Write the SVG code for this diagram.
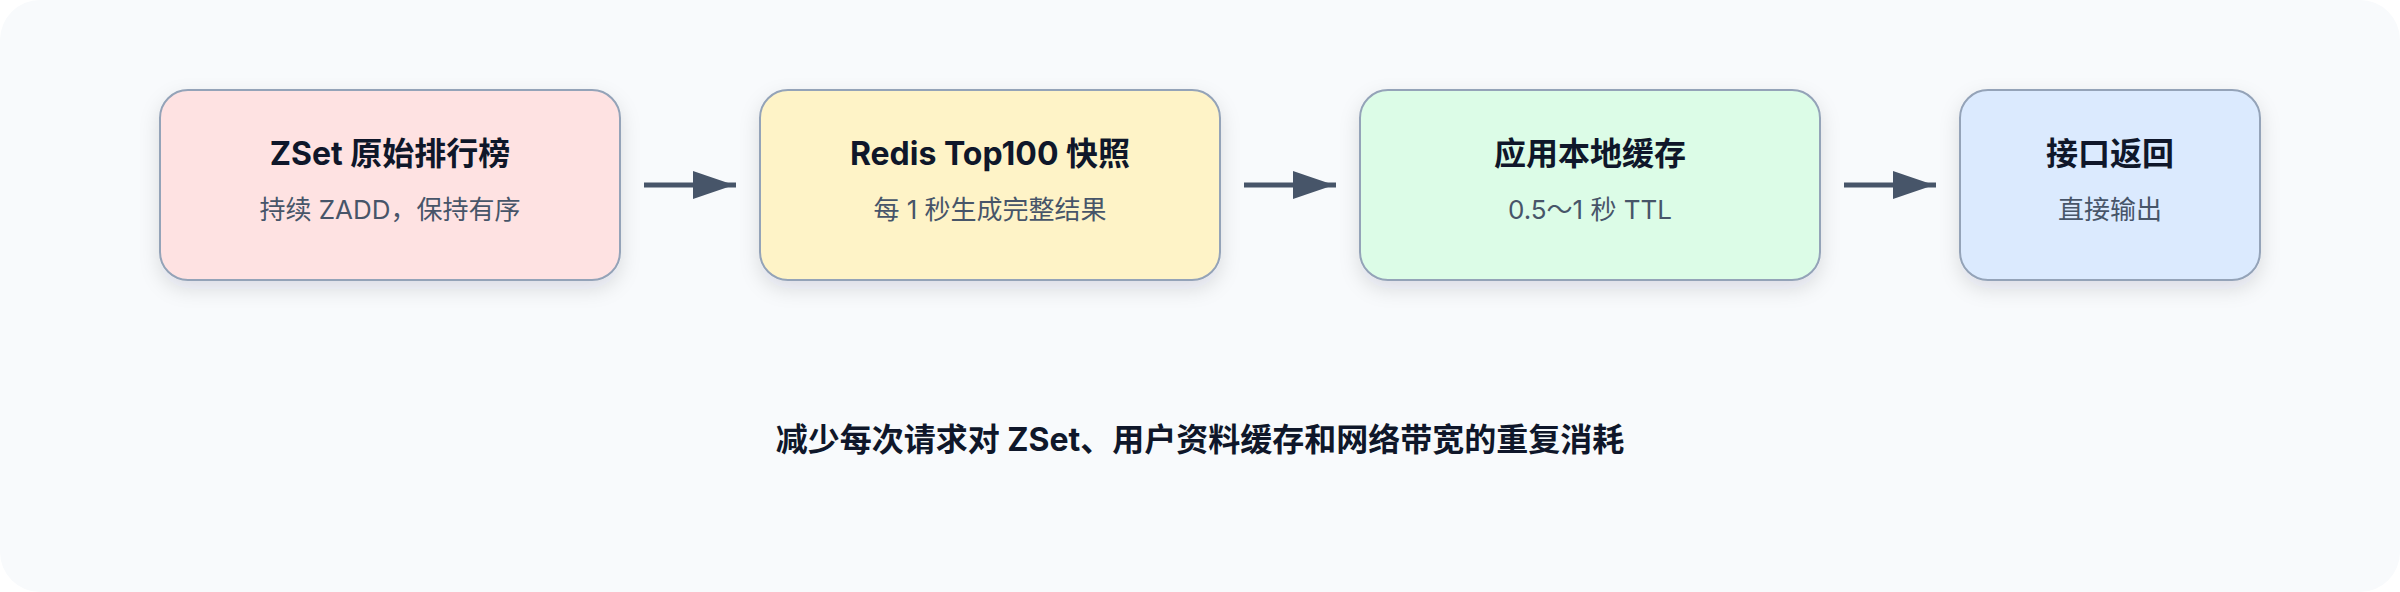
<svg xmlns="http://www.w3.org/2000/svg" width="2400" height="592" viewBox="0 0 2400 592">
  <defs>
    <filter id="shadow" x="-20%" y="-30%" width="140%" height="170%">
      <feDropShadow dx="0" dy="8" stdDeviation="10" flood-color="#0f172a" flood-opacity="0.12"/>
    </filter>
    <style>
      .box { stroke: #94a3b8; stroke-width: 2; filter: url(#shadow); }
      .title { font-family: Inter, "Noto Sans CJK SC", sans-serif; font-size: 32px; font-weight: 700; fill: #0f172a; text-anchor: middle; }
      .sub { font-family: Inter, "Noto Sans CJK SC", sans-serif; font-size: 26px; font-weight: 400; fill: #475569; text-anchor: middle; }
      .note { font-family: Inter, "Noto Sans CJK SC", sans-serif; font-size: 32px; font-weight: 700; fill: #0f172a; text-anchor: middle; }
      .edge { stroke: #475569; stroke-width: 5; fill: none; }
      .head { fill: #475569; }
    </style>
  </defs>
  <rect x="0" y="0" width="2400" height="592" fill="#ffffff"/>
  <rect x="0" y="0" width="2400" height="592" rx="40" ry="40" fill="#f8fafc"/>

  <g id="node-zset">
    <rect class="box" x="160" y="90" width="460" height="190" rx="28" ry="28" fill="#fee2e2"/>
    <text class="title" x="390" y="165">ZSet 原始排行榜</text>
    <text class="sub" x="390" y="219">持续 ZADD，保持有序</text>
  </g>
  <g id="node-redis">
    <rect class="box" x="760" y="90" width="460" height="190" rx="28" ry="28" fill="#fef3c7"/>
    <text class="title" x="990" y="165">Redis Top100 快照</text>
    <text class="sub" x="990" y="219">每 1 秒生成完整结果</text>
  </g>
  <g id="node-local">
    <rect class="box" x="1360" y="90" width="460" height="190" rx="28" ry="28" fill="#dcfce7"/>
    <text class="title" x="1590" y="165">应用本地缓存</text>
    <text class="sub" x="1590" y="219">0.5～1 秒 TTL</text>
  </g>
  <g id="node-api">
    <rect class="box" x="1960" y="90" width="300" height="190" rx="28" ry="28" fill="#dbeafe"/>
    <text class="title" x="2110" y="165">接口返回</text>
    <text class="sub" x="2110" y="219">直接输出</text>
  </g>

  <g id="connectors">
    <line class="edge" x1="644" y1="185" x2="736" y2="185"/>
    <polygon class="head" points="693,171 734,185 693,199"/>
    <line class="edge" x1="1244" y1="185" x2="1336" y2="185"/>
    <polygon class="head" points="1293,171 1334,185 1293,199"/>
    <line class="edge" x1="1844" y1="185" x2="1936" y2="185"/>
    <polygon class="head" points="1893,171 1934,185 1893,199"/>
  </g>

  <text class="note" x="1200" y="451">减少每次请求对 ZSet、用户资料缓存和网络带宽的重复消耗</text>
</svg>
